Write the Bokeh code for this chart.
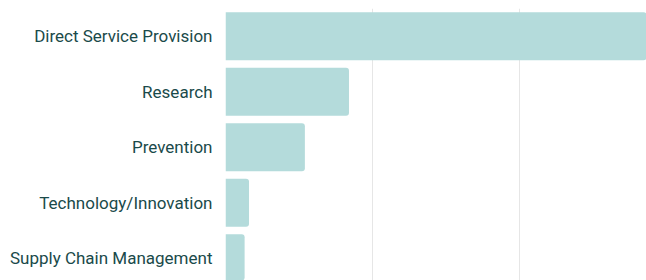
from bokeh.plotting import figure
from bokeh.models import Range1d, FixedTicker, ColumnDataSource
from bokeh.embed import file_html
from bokeh.resources import INLINE

categories = ["Direct Service Provision", "Research", "Prevention",
              "Technology/Innovation", "Supply Chain Management"]
values = [160, 42, 27, 8, 6.5]
x_ticks = [0, 50, 100, 150]

n = len(categories)
ypos = [n - i - 0.5 for i in range(n)]
src = ColumnDataSource(dict(y=ypos, v=values, c=categories))

p = figure(width=646, height=280, output_backend="svg", toolbar_location=None,
           x_range=Range1d(0, 143.2), y_range=Range1d(0.1, 5.0),
           min_border_left=225, min_border_right=0, min_border_top=8, min_border_bottom=0)
p.outline_line_color = None
p.background_fill_color = "white"

p.hbar(y="y", right="v", left=0, height=0.865, source=src,
       fill_color="#b4dbdb", line_color=None, border_radius=(0, 3, 3, 0))

p.xaxis.visible = False
p.xaxis.ticker = FixedTicker(ticks=x_ticks)
p.xgrid.ticker = FixedTicker(ticks=x_ticks)
p.xgrid.grid_line_color = "#e6e6e6"
p.xgrid.grid_line_width = 1
p.ygrid.visible = False

p.yaxis.ticker = FixedTicker(ticks=ypos)
p.yaxis.major_label_overrides = {y: c for y, c in zip(ypos, categories)}
p.yaxis.axis_line_color = None
p.yaxis.major_tick_line_color = None
p.yaxis.minor_tick_line_color = None
p.yaxis.major_tick_out = 0
p.yaxis.major_tick_in = 0
p.yaxis.major_label_standoff = 13
p.yaxis.major_label_text_font = "Roboto"
p.yaxis.major_label_text_font_size = "17px"
p.yaxis.major_label_text_color = "#1a4a4a"

open("out.html", "w").write(file_html(p, INLINE))
